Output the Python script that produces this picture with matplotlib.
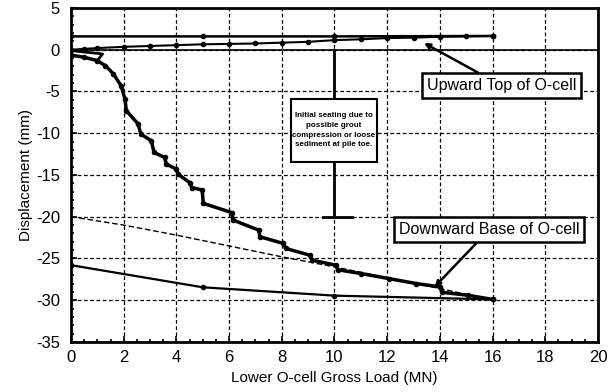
import matplotlib
matplotlib.use("Agg")
import matplotlib.pyplot as plt
from matplotlib.patches import Rectangle
from matplotlib.ticker import MultipleLocator

plt.rcParams['font.family'] = ['Liberation Sans', 'DejaVu Sans']
plt.rcParams['axes.unicode_minus'] = False

# upward movement of the O-cell top (loading, then unloading)
up_load_x = [0, 0.5, 1, 2, 3, 4, 5, 6, 7, 8, 9, 10, 11, 12, 13, 14, 15, 16]
up_load_y = [0.0, 0.1, 0.2, 0.35, 0.45, 0.55, 0.65, 0.7, 0.75, 0.85, 0.95,
             1.15, 1.25, 1.4, 1.45, 1.55, 1.6, 1.65]
up_unload_x = [16, 10, 5, 0]
up_unload_y = [1.65, 1.6, 1.6, 1.6]

# early seating loop at the base
seat_x = [0, 0.6, 1.2, 1.0]
seat_y = [-0.1, -0.3, -0.5, -1.3]

# downward movement of the O-cell base, load holds show as creep steps
down_load_x = [0, 0.5, 1.0, 1.3, 1.6, 1.9, 2.05, 2.1, 2.55, 2.65, 3.05, 3.15,
               3.55, 3.62, 4.0, 4.06, 4.5, 4.58, 4.98, 5.02, 6.1, 6.15, 7.12,
               7.17, 8.06, 8.15, 9.06, 9.15, 10.05, 10.12, 11.0, 12.05, 13.1,
               14.0, 14.08, 15.05, 16.0]
down_load_y = [-0.65, -0.9, -1.3, -1.9, -2.85, -4.3, -5.9, -7.3, -8.9, -10.1,
               -10.9, -12.3, -12.9, -13.7, -14.3, -14.9, -15.9, -16.5, -16.8,
               -18.4, -19.5, -20.4, -21.6, -22.4, -23.2, -23.8, -24.6, -25.2,
               -25.8, -26.35, -26.8, -27.4, -28.0, -28.4, -29.05, -29.4, -29.9]
down_unload_x = [16, 10, 5, 0]
down_unload_y = [-29.9, -29.45, -28.45, -25.8]

# dashed reference line
ref_x = [0, 2, 4, 6, 8, 10, 12, 14, 16]
ref_y = [-20.0, -21.0, -22.2, -23.5, -24.8, -26.0, -27.3, -28.6, -30.0]

fig = plt.figure(figsize=(6.11, 3.92), dpi=100)
ax = fig.add_axes([0.1162, 0.1276, 0.8625, 0.852])

ax.set_xlim(0, 20)
ax.set_ylim(-35, 5)
ax.xaxis.set_major_locator(MultipleLocator(2))
ax.xaxis.set_minor_locator(MultipleLocator(0.5))
ax.yaxis.set_major_locator(MultipleLocator(5))
ax.yaxis.set_minor_locator(MultipleLocator(1))
ax.grid(True, which='major', ls=(0, (3, 2)), lw=0.9, color='black')
ax.tick_params(which='both', direction='in', top=False, right=False,
               width=1.2, labelsize=12)
ax.tick_params(which='major', length=4)
ax.tick_params(axis='y', which='major', pad=8)
ax.tick_params(axis='x', which='major', pad=6)
ax.tick_params(which='minor', length=2.5)
for s in ax.spines.values():
    s.set_linewidth(2)

ax.axhline(0, color='black', lw=1.2)

ax.plot(up_load_x, up_load_y, 'k-', marker='o', ms=3, lw=1.5)
ax.plot(up_unload_x, up_unload_y, 'k-', marker='o', ms=3, lw=1.8)
ax.plot(seat_x, seat_y, 'k-', lw=2)
ax.plot(down_load_x, down_load_y, 'k-', marker='o', ms=3, lw=2.5)
ax.plot(down_unload_x, down_unload_y, 'k-', marker='o', ms=3, lw=1.6)
ax.plot(ref_x, ref_y, color='black', ls=(0, (4, 2)), lw=1.0)

# seating dimension line at 10 MN
ax.plot([10, 10], [0, -20], 'k-', lw=2)
ax.plot([9.55, 10.65], [-20, -20], 'k-', lw=2)
ax.add_patch(Rectangle((8.35, -13.4), 3.25, 7.5, fc='white', ec='black',
                       lw=1.5, zorder=5))
ax.text(9.98, -9.65,
        'Initial seating due to\npossible grout\ncompression or loose\nsediment at pile toe.',
        ha='center', va='center', fontsize=5.8, fontweight='bold',
        linespacing=1.55, zorder=6)

ax.annotate('Upward Top of O-cell', xy=(13.4, 0.8), xytext=(16.35, -4.3),
            ha='center', va='center', fontsize=11.5, zorder=5,
            bbox=dict(boxstyle='square,pad=0.3', fc='white', ec='black', lw=1.8),
            arrowprops=dict(arrowstyle='-|>', lw=1.8, color='black',
                            shrinkA=0, shrinkB=0, mutation_scale=8))
ax.annotate('Downward Base of O-cell', xy=(13.8, -28.4), xytext=(15.87, -21.55),
            ha='center', va='center', fontsize=11.5, zorder=5,
            bbox=dict(boxstyle='square,pad=0.3', fc='white', ec='black', lw=1.8),
            arrowprops=dict(arrowstyle='-|>', lw=1.8, color='black',
                            shrinkA=0, shrinkB=0, mutation_scale=8))

ax.set_xlabel('Lower O-cell Gross Load (MN)', fontsize=11, labelpad=4)
ax.set_ylabel('Displacement (mm)', fontsize=11, labelpad=2)

fig.savefig('out.png', dpi=100)
